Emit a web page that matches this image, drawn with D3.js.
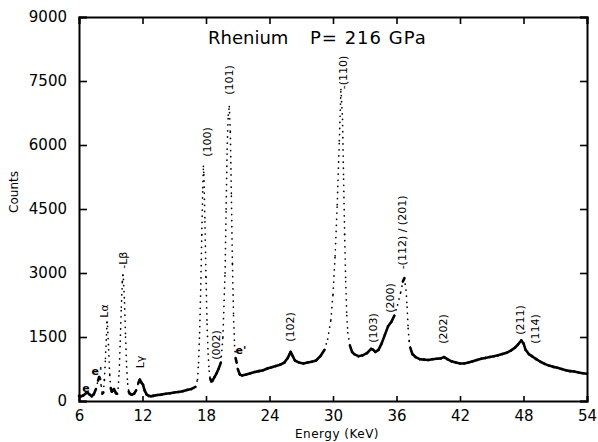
<!DOCTYPE html>
<html>
<head>
<meta charset="utf-8">
<script src="https://d3js.org/d3.v7.min.js"></script>
<style>
  body { margin: 0; background: #fff; }
  text { font-family: "DejaVu Sans", sans-serif; fill: #000; }
</style>
</head>
<body>
<div id="chart"></div>
<script>

// spectrum (keV, counts)
var energy = [6.0,6.2,6.4,6.6,6.8,7.0,7.2,7.4,7.6,7.8,7.9,8.0,8.1,8.2,8.3,8.4,8.5,8.6,8.65,8.7,8.8,8.9,9.0,9.1,9.2,9.3,9.4,9.5,9.6,9.7,9.8,9.9,
  10.0,10.1,10.15,10.2,10.3,10.4,10.5,10.6,10.7,10.8,10.9,11.0,11.2,11.4,11.6,11.75,11.9,12.05,12.2,12.4,12.6,12.8,13.0,13.4,13.8,14.2,14.6,15.0,15.4,15.8,16.2,16.6,
  17.0,17.2,17.3,17.4,17.5,17.6,17.7,17.75,17.8,17.9,18.0,18.1,18.2,18.3,18.4,18.5,18.6,18.8,19.0,19.2,19.4,19.6,19.8,19.9,20.0,20.1,20.2,20.3,20.4,20.5,20.6,20.7,20.8,20.9,
  21.0,21.2,21.4,21.8,22.2,22.6,23.0,23.4,23.8,24.2,24.6,25.0,25.4,25.7,25.9,26.0,26.2,26.4,26.8,27.2,27.6,28.0,28.4,28.8,29.2,29.5,29.8,
  30.0,30.2,30.4,30.6,30.75,30.9,31.0,31.1,31.2,31.3,31.4,31.6,31.8,32.0,32.4,32.8,33.2,33.6,33.8,34.0,34.3,34.6,34.9,35.2,35.5,35.8,
  36.1,36.4,36.6,36.75,36.9,37.0,37.1,37.2,37.3,37.5,37.8,38.2,38.6,39.0,39.4,39.8,40.2,40.5,40.8,41.2,41.6,42.0,42.4,42.8,43.2,43.6,
  44.0,44.4,44.8,45.2,45.6,46.0,46.4,46.8,47.2,47.5,47.8,48.0,48.2,48.5,48.8,49.2,49.6,50.0,50.4,50.8,51.2,51.6,52.0,52.4,52.8,53.2,53.6,54.0];
var counts = [120,110,130,170,200,150,110,160,280,480,560,520,350,170,200,500,1000,1550,1850,1750,1200,600,300,220,250,280,230,180,170,300,700,1400,
  2200,2800,2950,2850,2300,1500,800,400,220,170,160,150,170,250,420,500,430,380,250,150,120,110,120,140,150,170,180,200,210,230,260,280,
  330,500,900,1600,2600,3900,5000,5500,5300,4200,2900,1800,1100,700,520,460,470,560,650,760,900,1500,3000,4500,5900,6700,6900,6300,4800,3200,2000,1300,1000,900,
  750,620,600,620,650,680,700,720,760,790,820,850,900,1000,1100,1150,1050,950,900,880,900,920,950,1050,1200,1450,1900,
  2500,3400,4600,6100,7300,6600,5200,3900,2800,2000,1600,1300,1150,1100,1050,1070,1120,1220,1200,1150,1200,1350,1550,1750,1850,2000,
  2250,2550,2800,2880,2600,2200,1700,1400,1250,1100,1030,980,970,960,980,990,1000,1030,980,930,900,880,880,900,930,960,
  990,1010,1030,1050,1070,1100,1130,1180,1250,1330,1420,1350,1200,1100,1050,980,920,870,830,800,780,750,720,700,690,670,650,640];

var xTicks = [6,12,18,24,30,36,42,48,54];
var yTicks = [0,1500,3000,4500,6000,7500,9000];

// peak annotations: text, anchor energy, anchor counts
var noteText   = ["(100)","(101)","-(110)","(002)","(102)","(103)","(200)","-(112) / (201)","(202)","(211)","(114)","L\u03b1","-L\u03b2","L\u03b3"];
var noteEnergy = [18.1,20.17,30.95,18.95,25.94,33.78,35.39,36.52,40.4,47.67,49.09,8.36,10.16,11.76];
var noteCounts = [6070,7524,7700,1313,1735,1711,2414,3950,1688,1899,1688,2110,3300,914];

var escText   = ["e","e'","e'"];
var escEnergy = [6.66,7.7,21.31];
var escCounts = [305,703,1195];

var margin = {top: 17, right: 11, bottom: 41, left: 79};
var width = 598 - margin.left - margin.right;
var height = 442 - margin.top - margin.bottom;

var svg = d3.select("#chart").append("svg")
    .attr("width", 598)
    .attr("height", 442)
  .append("g")
    .attr("transform", "translate(" + margin.left + "," + margin.top + ")");

var x = d3.scaleLinear().domain([6, 54]).range([0, width]);
var y = d3.scaleLinear().domain([0, 9000]).range([height, 0]);

// frame with inward ticks on all four sides
svg.append("g").attr("transform", "translate(0," + height + ")")
    .call(d3.axisBottom(x).tickValues(xTicks).tickSize(-5).tickPadding(9).tickFormat(d3.format("d")));
svg.append("g")
    .call(d3.axisTop(x).tickValues(xTicks).tickSize(-7).tickFormat(""));
svg.append("g")
    .call(d3.axisLeft(y).tickValues(yTicks).tickSize(-8).tickPadding(12).tickFormat(d3.format("d")));
svg.append("g").attr("transform", "translate(" + width + ",0)")
    .call(d3.axisRight(y).tickValues(yTicks).tickSize(-7).tickFormat(""));

svg.selectAll(".domain").attr("stroke", "#000").attr("stroke-width", 2);
svg.selectAll(".tick line").attr("stroke", "#000").attr("stroke-width", 1.6);
svg.selectAll(".tick text").style("font-size", "15px").attr("fill", "#000");

// spectrum: flat runs look solid, steep peak flanks look dotted
var pts = energy.map(function (e, i) { return [x(e), y(counts[i])]; });
for (var i = 1; i < pts.length; i++) {
  var a = pts[i - 1], b = pts[i];
  var dy = Math.abs(b[1] - a[1]), dx = Math.abs(b[0] - a[0]);
  var steep = dy > 2 * dx + 3;
  svg.append("line")
      .attr("x1", a[0]).attr("y1", a[1])
      .attr("x2", b[0]).attr("y2", b[1])
      .attr("stroke", "#000")
      .attr("stroke-linecap", "round")
      .attr("stroke-width", steep ? 1.7 : 2.6)
      .attr("stroke-dasharray", steep ? "0.1,6" : null);
}

// peak labels (rotated, reading upward)
svg.selectAll(".note")
    .data(noteText)
    .enter().append("text")
    .attr("class", "note")
    .attr("transform", function (d, i) {
      return "translate(" + x(noteEnergy[i]) + "," + y(noteCounts[i]) + ") rotate(-90)";
    })
    .attr("text-anchor", "middle")
    .attr("dy", "0.35em")
    .style("font-size", "11px")
    .text(function (d) { return d; });

svg.selectAll(".esc")
    .data(escText)
    .enter().append("text")
    .attr("class", "esc")
    .attr("x", function (d, i) { return x(escEnergy[i]); })
    .attr("y", function (d, i) { return y(escCounts[i]); })
    .attr("text-anchor", "middle")
    .attr("dy", "0.35em")
    .style("font-size", "11px")
    .style("font-weight", "bold")
    .text(function (d) { return d; });

svg.append("text")
    .attr("x", 129).attr("y", 27)
    .style("font-size", "18px")
    .text("Rhenium");
svg.append("text")
    .attr("x", 231).attr("y", 27)
    .style("font-size", "18px")
    .style("letter-spacing", "1px")
    .text("P= 216 GPa");

svg.append("text")
    .attr("transform", "translate(-61," + (height / 2 - 17) + ") rotate(-90)")
    .attr("text-anchor", "middle")
    .style("font-size", "12px")
    .text("Counts");

svg.append("text")
    .attr("x", width / 2 + 4).attr("y", height + 37)
    .attr("text-anchor", "middle")
    .style("font-size", "12px")
    .style("letter-spacing", "0.5px")
    .text("Energy  (KeV)");

</script>
</body>
</html>
